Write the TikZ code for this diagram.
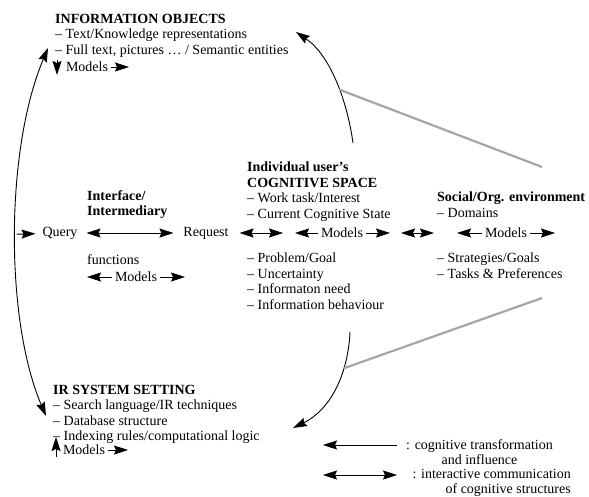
\documentclass[tikz,border=0pt]{standalone}
\usepackage{fontspec}
\setmainfont{Liberation Serif}
\usetikzlibrary{arrows.meta}

\begin{document}
\begin{tikzpicture}[x=1pt,y=-1pt,
    font=\fontsize{14}{15.5}\selectfont,
    >={Stealth[length=14pt,width=9pt,inset=2pt]},
    txt/.style={inner sep=0pt,align=left},
    mdl/.style={inner sep=0pt,outer sep=3pt},
    link/.style={<->,line width=0.6pt},
    flow/.style={->,line width=0.9pt},
    infl/.style={line width=2.2pt,black!35}]
    \useasboundingbox (0,0) rectangle (589,496);

    % the three spaces
    \node[txt,anchor=north west] (io) at (55,14) {\textbf{INFORMATION OBJECTS}\\-- Text/Knowledge representations\\-- Full text, pictures \dots\ / Semantic entities};
    \node[mdl,anchor=west] (iomod) at (63,67) {Models};
    \node[txt,anchor=north west] (irs) at (53,385) {\textbf{IR SYSTEM SETTING}\\-- Search language/IR techniques\\-- Database structure\\-- Indexing rules/computational logic};
    \node[mdl,anchor=west] (irsmod) at (60,450) {Models};

    \node[mdl] (query) at (60,233) {Query};
    \node[txt,anchor=north west] (iface) at (87,190) {\textbf{Interface/}\\\textbf{Intermediary}};
    \node[mdl] (req) at (206,233) {Request};
    \node[txt,anchor=west] (func) at (87,260) {functions};
    \node[mdl] (fmod) at (136,277) {Models};

    \node[txt,anchor=north west] (user) at (247,162) {\textbf{Individual user's}\\\textbf{COGNITIVE SPACE}\\-- Work task/Interest\\-- Current Cognitive State};
    \node[mdl] (umod) at (342,233) {Models};
    \node[txt,anchor=north west] (ulist) at (247,253) {-- Problem/Goal\\-- Uncertainty\\-- Informaton need\\-- Information behaviour};

    \node[txt,anchor=north west] (soc) at (437,192) {\textbf{Social/Org. environment}\\-- Domains};
    \node[mdl] (smod) at (506,233) {Models};
    \node[txt,anchor=north west] (slist) at (437,253) {-- Strategies/Goals\\-- Tasks \& Preferences};

    % legend
    \node[txt,align=center,anchor=north west] (leg1) at (406,439) {: cognitive transformation\\and influence};
    \node[txt,align=right,anchor=north east] (leg2) at (571,469) {: interactive communication\\of cognitive structures};

    % free ends
    \coordinate (ioin) at (48,48);
    \coordinate (irsin) at (46,416);
    \coordinate (ioback) at (296,32);
    \coordinate (irsback) at (293,428);
    \coordinate (utop) at (353,143);
    \coordinate (ubot) at (350,332);
    \coordinate (socup) at (542,167);
    \coordinate (socdn) at (542,298);
    \coordinate (iomodr) at (129,67);
    \coordinate (irsmodr) at (128,450);
    \coordinate (iodn) at (57,75);
    \coordinate (irsup) at (56,457);
    \coordinate (fmodl) at (87,277);
    \coordinate (fmodr) at (185,277);
    \coordinate (uin) at (283,233);
    \coordinate (umodl) at (295,233);
    \coordinate (umodr) at (390,233);
    \coordinate (usl) at (401,233);
    \coordinate (usr) at (434,233);
    \coordinate (smodl) at (457,233);
    \coordinate (smodr) at (555,233);
    \coordinate (leg1a) at (397,445);
    \coordinate (leg1b) at (323,445);
    \coordinate (leg2a) at (397,475);
    \coordinate (leg2b) at (323,475);

    % transformation arcs
    \draw[<->,line width=0.9pt] (ioin) .. controls (5,150) and (5,320) .. (irsin) coordinate[pos=0.5] (larc);
    \draw[flow] (utop) .. controls (347,100) and (330,55) .. (ioback) coordinate[pos=0.42] (tarc);
    \draw[flow] (ubot) .. controls (348,375) and (330,410) .. (irsback) coordinate[pos=0.3] (barc);
    \draw[infl] (tarc) -- (socup);
    \draw[infl] (barc) -- (socdn);

    % models and communication
    \draw[flow,shorten <=1pt,shorten >=4pt] (larc) -- (query);
    \draw[flow] ([yshift=-2pt]io.south west) ++(2,0) -- (iodn);
    \draw[flow] (irsup) -- ++(0,-20);
    \draw[->,line width=0.6pt] (iomod) -- (iomodr);
    \draw[->,line width=0.6pt] (irsmod) -- (irsmodr);
    \draw[link,shorten <=6pt,shorten >=7pt] (query) -- (req);
    \draw[link,shorten <=8pt] (req) -- (uin);
    \draw[->,line width=0.6pt] (fmod) -- (fmodl);
    \draw[->,line width=0.6pt] (fmod) -- (fmodr);
    \draw[->,line width=0.6pt] (umod) -- (umodl);
    \draw[->,line width=0.6pt] (umod) -- (umodr);
    \draw[link] (usl) -- (usr);
    \draw[->,line width=0.6pt] (smod) -- (smodl);
    \draw[->,line width=0.6pt] (smod) -- (smodr);
    \draw[->,line width=0.6pt] (leg1a) -- (leg1b);
    \draw[link] (leg2a) -- (leg2b);
\end{tikzpicture}
\end{document}
